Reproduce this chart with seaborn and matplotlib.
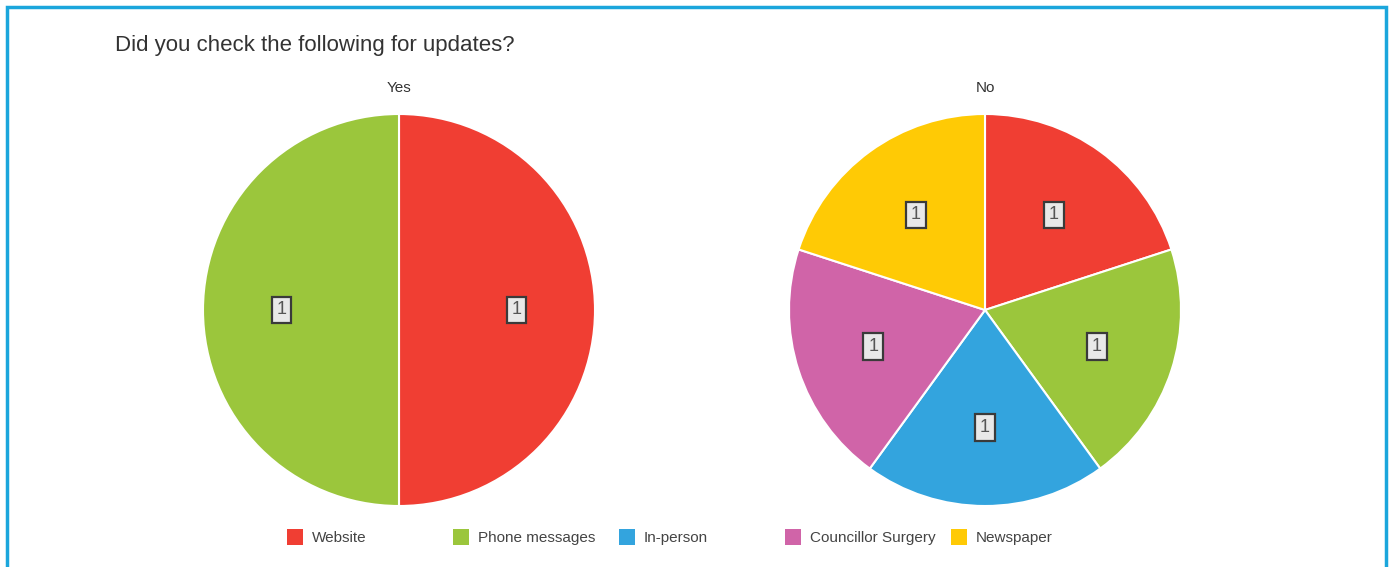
import matplotlib
matplotlib.use("Agg")
import matplotlib.pyplot as plt
from matplotlib.patches import Rectangle
import seaborn as sns

sns.set_style("white")
plt.rcParams["font.family"] = ["Liberation Sans", "DejaVu Sans"]

# Survey responses
categories = ["Website", "Phone messages", "In-person", "Councillor Surgery", "Newspaper"]
yes_counts = [1, 1, 0, 0, 0]
no_counts = [1, 1, 1, 1, 1]
colors = ["#F03E33", "#9BC63C", "#33A4DE", "#D064A8", "#FFCA05"]
title = "Did you check the following for updates?"
panel_titles = ["Yes", "No"]

W, H = 1391, 567
fig = plt.figure(figsize=(W / 100, H / 100), dpi=100)
fig.patch.set_facecolor("white")

def px_axes(cx, cy, r):
    return fig.add_axes([(cx - r) / W, 1 - (cy + r) / H, 2 * r / W, 2 * r / H])

centers = [(399, 310), (985, 310)]
radius = 196

for (cx, cy), counts, ptitle in zip(centers, [yes_counts, no_counts], panel_titles):
    ax = px_axes(cx, cy, radius)
    vals = [v for v in counts if v > 0]
    cols = [c for v, c in zip(counts, colors) if v > 0]
    wedges, texts = ax.pie(
        vals, colors=cols, startangle=90, counterclock=False,
        labels=[str(v) for v in vals], labeldistance=0.6,
        wedgeprops=dict(edgecolor="white", linewidth=1.5),
        textprops=dict(fontsize=13, color="#555555", ha="center", va="center",
                       bbox=dict(boxstyle="square,pad=0.26", facecolor="#E8E8E8",
                                 edgecolor="#3A3A3A", linewidth=1.6)),
    )
    ax.set_xlim(-1, 1)
    ax.set_ylim(-1, 1)
    ax.set_aspect("equal")
    ax.axis("off")
    fig.text(cx / W, 1 - 88 / H, ptitle, ha="center", va="center",
             fontsize=11, color="#333333")

fig.text(115 / W, 1 - 45 / H, title, ha="left", va="center",
         fontsize=16, color="#333333")

# Legend row
leg_x0, leg_step, leg_y = 287, 166, 537
for i, (name, col) in enumerate(zip(categories, colors)):
    x = leg_x0 + i * leg_step
    fig.patches.append(Rectangle((x / W, 1 - (leg_y + 8) / H), 16 / W, 16 / H,
                                 transform=fig.transFigure, facecolor=col,
                                 edgecolor="none"))
    fig.text((x + 25) / W, 1 - (leg_y + 1) / H, name, ha="left", va="center",
             fontsize=11, color="#444444")

# Outer frame
fig.patches.append(Rectangle((7 / W, -0.05), (1386 - 7) / W, 1 - 7 / H + 0.05,
                             transform=fig.transFigure, facecolor="none",
                             edgecolor="#1BA6DC", linewidth=2.5))

fig.savefig("out.png", dpi=100)
